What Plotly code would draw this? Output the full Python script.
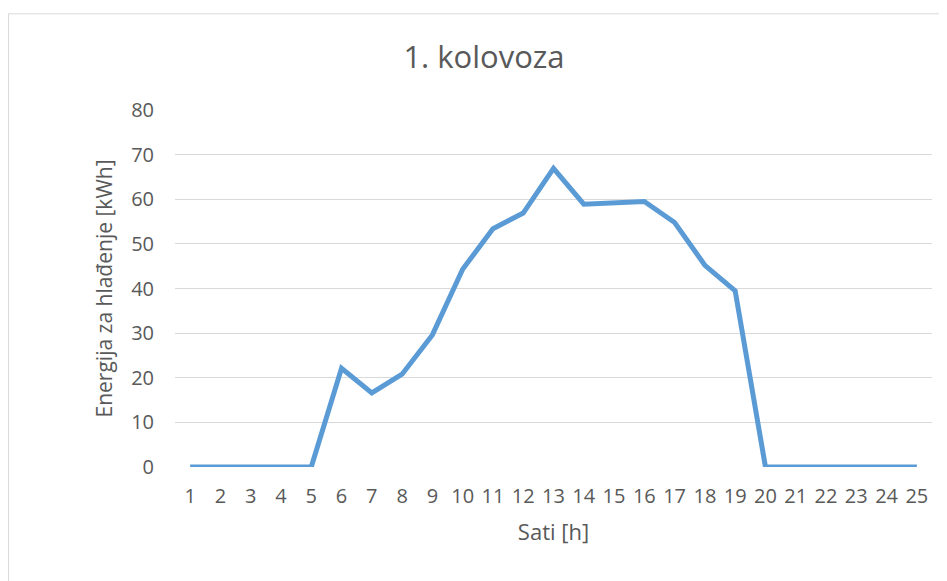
import plotly.graph_objects as go

hours = list(range(1, 26))
energy = [0, 0, 0, 0, 0, 22.1, 16.6, 20.8, 29.6, 44.3, 53.4, 56.9, 66.9, 58.9, 59.3,
          59.5, 54.8, 45.2, 39.5, 0, 0, 0, 0, 0, 0]
y_ticks = [0, 10, 20, 30, 40, 50, 60, 70, 80]

OFF = 8  # page body margin
W, H = 947 - OFF, 581 - OFF
L, R = 175 - OFF, 15
T, B = 109.5 - OFF, 113.5
pw = W - L - R
ph = H - T - B

fig = go.Figure()
fig.add_trace(go.Scatter(
    x=hours, y=energy, mode="lines",
    line=dict(color="#5B9BD5", width=5, shape="linear"),
    hoverinfo="x+y", showlegend=False,
))

fig.update_layout(
    width=W, height=H,
    margin=dict(l=L, r=R, t=T, b=B),
    paper_bgcolor="white", plot_bgcolor="white",
    font=dict(family="Open Sans, Liberation Sans, sans-serif", color="#595959"),
    title=dict(text="1. kolovoza", x=(484 - OFF) / W, xanchor="center",
               y=1 - (57 - OFF) / H, yanchor="middle",
               font=dict(size=31, color="#595959")),
    xaxis=dict(
        range=[0.5, 25.5], tickmode="array", tickvals=hours,
        ticktext=[str(h) for h in hours],
        showgrid=False, zeroline=False, showline=False,
        ticks="", ticklabelstandoff=15,
        tickfont=dict(size=20, color="#595959"),
        title=dict(text="Sati [h]", font=dict(size=22, color="#595959"), standoff=16),
    ),
    yaxis=dict(
        range=[0, 80], tickmode="array", tickvals=y_ticks,
        showgrid=True, gridcolor="#D9D9D9", gridwidth=1.3,
        zeroline=False, showline=False, ticks="", ticklabelstandoff=20,
        tickfont=dict(size=20, color="#595959"),
        title=dict(text="Energija za hlađenje [kWh]",
                   font=dict(size=21, color="#595959"), standoff=12),
    ),
)

fig.add_shape(
    type="rect", xref="paper", yref="paper",
    x0=(0.5 - L) / pw, x1=(W + 5 - L) / pw,
    y0=(T + ph - (H + 5)) / ph, y1=(T + ph - 5) / ph,
    line=dict(color="#D9D9D9", width=1), fillcolor="rgba(0,0,0,0)", layer="below",
)

fig.write_html("out.html")
